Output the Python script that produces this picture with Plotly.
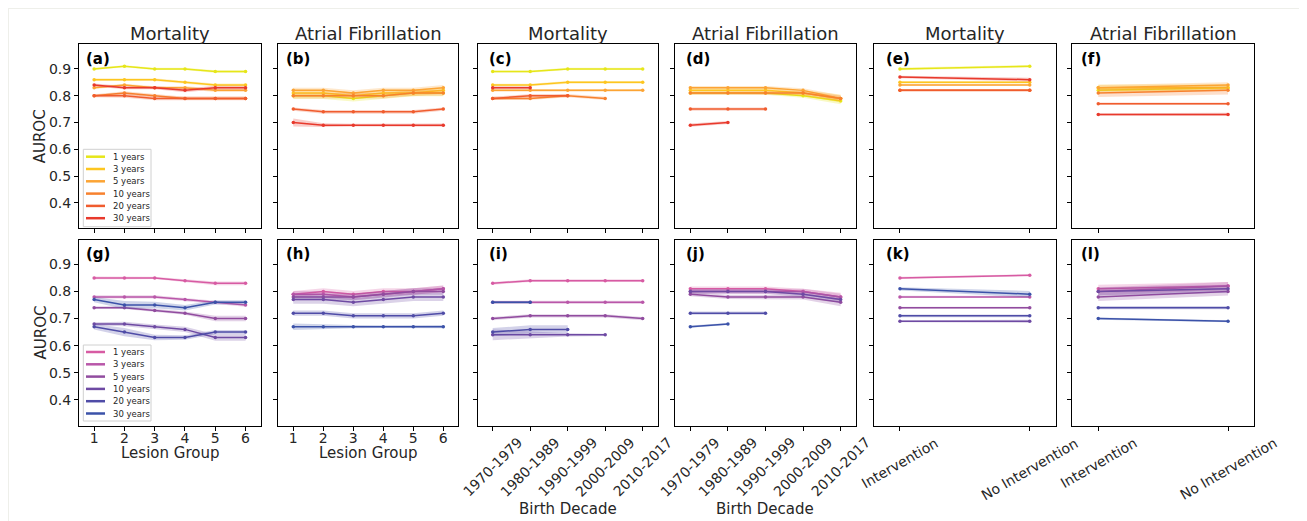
import plotly.graph_objects as go

W, H = 1307, 521

SERIES = ["1 years", "3 years", "5 years", "10 years", "20 years", "30 years"]
WARM = ["#e6e619", "#fdc620", "#fca434", "#f7812e", "#f05c2e", "#e8392c"]
COOL = ["#d75ba3", "#b957a9", "#914c9f", "#6e4aa3", "#4f4ca7", "#3b52a9"]

LESION = [1, 2, 3, 4, 5, 6]
DECADES = ["1970-1979", "1980-1989", "1990-1999", "2000-2009", "2010-2017"]
INTERV = ["Intervention", "No Intervention"]

# ---- top row: (a) Mortality / lesion, (b) AF / lesion, (c) Mortality / decade,
# (d) AF / decade, (e) Mortality / intervention, (f) AF / intervention
pa_y = [[0.90, 0.91, 0.90, 0.90, 0.89, 0.89],
        [0.86, 0.86, 0.86, 0.85, 0.84, 0.84],
        [0.83, 0.84, 0.83, 0.83, 0.82, 0.82],
        [0.80, 0.81, 0.80, 0.79, 0.79, 0.79],
        [0.80, 0.80, 0.79, 0.79, 0.79, 0.79],
        [0.84, 0.83, 0.83, 0.82, 0.83, 0.83]]
pa_e = [[0.004, 0.004, 0.004, 0.004, 0.005, 0.005],
        [0.005, 0.005, 0.005, 0.005, 0.006, 0.006],
        [0.005, 0.005, 0.005, 0.006, 0.006, 0.006],
        [0.005, 0.007, 0.006, 0.006, 0.006, 0.006],
        [0.006, 0.008, 0.007, 0.007, 0.007, 0.007],
        [0.006, 0.006, 0.006, 0.007, 0.007, 0.007]]

pb_y = [[0.80, 0.80, 0.79, 0.80, 0.81, 0.81],
        [0.81, 0.81, 0.80, 0.81, 0.81, 0.82],
        [0.82, 0.82, 0.81, 0.82, 0.82, 0.83],
        [0.80, 0.80, 0.80, 0.80, 0.81, 0.81],
        [0.75, 0.74, 0.74, 0.74, 0.74, 0.75],
        [0.70, 0.69, 0.69, 0.69, 0.69, 0.69]]
pb_e = [[0.012, 0.012, 0.012, 0.012, 0.012, 0.012],
        [0.012, 0.012, 0.012, 0.012, 0.012, 0.012],
        [0.010, 0.010, 0.010, 0.010, 0.010, 0.010],
        [0.010, 0.010, 0.010, 0.010, 0.010, 0.010],
        [0.006, 0.007, 0.007, 0.007, 0.007, 0.006],
        [0.015, 0.007, 0.005, 0.005, 0.005, 0.006]]

pc_y = [[0.89, 0.89, 0.90, 0.90, 0.90],
        [0.84, 0.84, 0.85, 0.85, 0.85],
        [0.82, 0.82, 0.82, 0.82, 0.82],
        [0.79, 0.79, 0.80, 0.79, None],
        [0.79, 0.80, 0.80, None, None],
        [0.83, 0.83, None, None, None]]
pc_e = [[0.004, 0.004, 0.004, 0.004, 0.004],
        [0.005, 0.005, 0.005, 0.005, 0.005],
        [0.005, 0.005, 0.005, 0.005, 0.005],
        [0.006, 0.006, 0.006, 0.006, None],
        [0.006, 0.006, 0.006, None, None],
        [0.005, 0.005, None, None, None]]

pd_y = [[0.81, 0.81, 0.81, 0.80, 0.78],
        [0.82, 0.82, 0.82, 0.81, 0.79],
        [0.83, 0.83, 0.83, 0.82, 0.79],
        [0.81, 0.81, 0.81, 0.81, 0.79],
        [0.75, 0.75, 0.75, None, None],
        [0.69, 0.70, None, None, None]]
pd_e = [[0.006, 0.006, 0.006, 0.008, 0.012],
        [0.008, 0.008, 0.008, 0.010, 0.015],
        [0.006, 0.006, 0.006, 0.008, 0.012],
        [0.006, 0.006, 0.006, 0.008, 0.010],
        [0.006, 0.006, 0.006, None, None],
        [0.006, 0.006, None, None, None]]

pe_y = [[0.90, 0.91], [0.85, 0.85], [0.84, 0.84],
        [0.82, 0.82], [0.82, 0.82], [0.87, 0.86]]
pe_e = [[0.005, 0.005], [0.005, 0.005], [0.004, 0.004],
        [0.004, 0.004], [0.004, 0.004], [0.005, 0.007]]

pf_y = [[0.82, 0.83], [0.83, 0.83], [0.83, 0.84],
        [0.81, 0.82], [0.77, 0.77], [0.73, 0.73]]
pf_e = [[0.010, 0.010], [0.012, 0.012], [0.010, 0.010],
        [0.015, 0.015], [0.005, 0.005], [0.005, 0.006]]

# ---- bottom row: (g)..(l)
pg_y = [[0.85, 0.85, 0.85, 0.84, 0.83, 0.83],
        [0.78, 0.78, 0.78, 0.77, 0.76, 0.75],
        [0.74, 0.74, 0.73, 0.72, 0.70, 0.70],
        [0.68, 0.68, 0.67, 0.66, 0.63, 0.63],
        [0.67, 0.65, 0.63, 0.63, 0.65, 0.65],
        [0.77, 0.75, 0.75, 0.74, 0.76, 0.76]]
pg_e = [[0.005, 0.005, 0.004, 0.005, 0.007, 0.007],
        [0.006, 0.006, 0.006, 0.006, 0.006, 0.006],
        [0.005, 0.005, 0.006, 0.006, 0.010, 0.010],
        [0.006, 0.008, 0.008, 0.010, 0.012, 0.012],
        [0.010, 0.015, 0.010, 0.008, 0.008, 0.008],
        [0.010, 0.015, 0.012, 0.010, 0.008, 0.008]]

ph_y = [[0.79, 0.80, 0.79, 0.80, 0.80, 0.81],
        [0.79, 0.79, 0.78, 0.79, 0.80, 0.81],
        [0.78, 0.78, 0.78, 0.79, 0.80, 0.80],
        [0.77, 0.77, 0.76, 0.77, 0.78, 0.78],
        [0.72, 0.72, 0.71, 0.71, 0.71, 0.72],
        [0.67, 0.67, 0.67, 0.67, 0.67, 0.67]]
ph_e = [[0.012, 0.012, 0.012, 0.012, 0.012, 0.012],
        [0.012, 0.012, 0.012, 0.012, 0.012, 0.012],
        [0.012, 0.012, 0.012, 0.012, 0.012, 0.012],
        [0.015, 0.015, 0.015, 0.015, 0.015, 0.015],
        [0.010, 0.010, 0.010, 0.010, 0.010, 0.010],
        [0.012, 0.008, 0.006, 0.005, 0.005, 0.006]]

pi_y = [[0.83, 0.84, 0.84, 0.84, 0.84],
        [0.76, 0.76, 0.76, 0.76, 0.76],
        [0.70, 0.71, 0.71, 0.71, 0.70],
        [0.64, 0.64, 0.64, 0.64, None],
        [0.65, 0.66, 0.66, None, None],
        [0.76, 0.76, None, None, None]]
pi_e = [[0.005, 0.005, 0.005, 0.005, 0.005],
        [0.006, 0.006, 0.006, 0.006, 0.006],
        [0.006, 0.006, 0.006, 0.006, 0.006],
        [0.020, 0.012, 0.006, 0.004, None],
        [0.015, 0.015, 0.015, None, None],
        [0.005, 0.005, None, None, None]]

pj_y = [[0.81, 0.81, 0.81, 0.80, 0.78],
        [0.80, 0.80, 0.80, 0.80, 0.78],
        [0.79, 0.78, 0.78, 0.78, 0.76],
        [0.80, 0.80, 0.80, 0.79, 0.77],
        [0.72, 0.72, 0.72, None, None],
        [0.67, 0.68, None, None, None]]
pj_e = [[0.008, 0.008, 0.008, 0.010, 0.015],
        [0.008, 0.008, 0.008, 0.010, 0.012],
        [0.008, 0.008, 0.008, 0.010, 0.015],
        [0.008, 0.008, 0.008, 0.010, 0.012],
        [0.006, 0.006, 0.006, None, None],
        [0.004, 0.004, None, None, None]]

pk_y = [[0.85, 0.86], [0.78, 0.78], [0.74, 0.74],
        [0.69, 0.69], [0.71, 0.71], [0.81, 0.79]]
pk_e = [[0.004, 0.004], [0.004, 0.004], [0.004, 0.004],
        [0.004, 0.006], [0.005, 0.005], [0.006, 0.012]]

pl_y = [[0.81, 0.82], [0.80, 0.82], [0.78, 0.80],
        [0.80, 0.81], [0.74, 0.74], [0.70, 0.69]]
pl_e = [[0.015, 0.015], [0.015, 0.015], [0.015, 0.015],
        [0.015, 0.015], [0.006, 0.006], [0.004, 0.004]]

PANEL_LABELS = ["(a)", "(b)", "(c)", "(d)", "(e)", "(f)",
                "(g)", "(h)", "(i)", "(j)", "(k)", "(l)"]
COL_TITLES = ["Mortality", "Atrial Fibrillation"] * 3

panels = [
    (LESION, pa_y, pa_e), (LESION, pb_y, pb_e), (DECADES, pc_y, pc_e),
    (DECADES, pd_y, pd_e), (INTERV, pe_y, pe_e), (INTERV, pf_y, pf_e),
    (LESION, pg_y, pg_e), (LESION, ph_y, ph_e), (DECADES, pi_y, pi_e),
    (DECADES, pj_y, pj_e), (INTERV, pk_y, pk_e), (INTERV, pl_y, pl_e),
]

# layout geometry (screen pixels); the page body adds an 8px offset
OFF = 8
COL_L = [79, 278.3, 477.7, 675.3, 874, 1072.3]
COL_R = [260.7, 458.3, 657.7, 855.7, 1055.7, 1254]
ROW_T = [44.3, 239.5]
ROW_B = [228.3, 425.5]
LABEL_DX = [4.5, 6, 9, 9, 10, 7]
XRANGES = [[0.5, 6.5], [0.5, 6.5], [-0.4, 4.4], [-0.4, 4.4], [-0.2, 1.2], [-0.2, 1.2]]
YRANGE = [0.305, 0.992]

FONT = "DejaVu Sans"
TXT = "#262626"


def px(x):
    return (x - OFF) / W


def py(y):
    return 1 - (y - OFF) / H


def rgba(hexc, a):
    h = hexc.lstrip("#")
    r, g, b = int(h[0:2], 16), int(h[2:4], 16), int(h[4:6], 16)
    return f"rgba({r},{g},{b},{a})"


fig = go.Figure()
layout = dict(
    width=W, height=H, autosize=False,
    margin=dict(l=0, r=0, t=0, b=0, pad=0, autoexpand=False),
    paper_bgcolor="#eeefea",
    plot_bgcolor="white",
    showlegend=False,
    font=dict(family=FONT, color=TXT, size=14),
)
annotations = []
shapes = [dict(type="rect", xref="paper", yref="paper", x0=px(9), x1=px(1299),
               y0=0, y1=py(9), fillcolor="white", line=dict(width=0), layer="below")]

for k, (xs, ys, es) in enumerate(panels):
    idx = k + 1
    r, c = divmod(k, 6)
    xa = "x" if idx == 1 else f"x{idx}"
    ya = "y" if idx == 1 else f"y{idx}"
    colors = WARM if r == 0 else COOL
    for s in range(6):
        pts = [(xx, yy, ee) for xx, yy, ee in zip(xs, ys[s], es[s]) if yy is not None]
        px_ = [p[0] for p in pts]
        up = [p[1] + p[2] for p in pts]
        lo = [p[1] - p[2] for p in pts]
        fig.add_trace(go.Scatter(
            x=px_ + px_[::-1], y=up + lo[::-1], fill="toself",
            fillcolor=rgba(colors[s], 0.25), line=dict(width=0),
            mode="lines", hoverinfo="skip", xaxis=xa, yaxis=ya))
        fig.add_trace(go.Scatter(
            x=px_, y=[p[1] for p in pts], mode="lines+markers",
            line=dict(color=colors[s], width=1.5),
            marker=dict(size=3.5, color=colors[s]),
            name=SERIES[s], xaxis=xa, yaxis=ya))

    xkey = "xaxis" if idx == 1 else f"xaxis{idx}"
    ykey = "yaxis" if idx == 1 else f"yaxis{idx}"
    is_cat = c >= 2
    xaxis = dict(
        domain=[px(COL_L[c]), px(COL_R[c])], anchor=ya, range=XRANGES[c],
        showline=True, mirror=True, linecolor="black", linewidth=1,
        showgrid=False, zeroline=False, ticks="outside", ticklen=4,
        tickcolor="black", tickfont=dict(size=14, color=TXT),
        showticklabels=(r == 1 and not is_cat), ticklabelstandoff=-4,
        fixedrange=True, automargin=False,
    )
    if is_cat:
        xaxis.update(type="category", categoryorder="array", categoryarray=xs)
        if r == 1:
            # matplotlib-style centred, rotated tick labels
            for lab in xs:
                annotations.append(dict(
                    text=lab, xref=xa, yref="paper", x=lab, y=py(432),
                    xanchor="center", yanchor="top", showarrow=False,
                    textangle=-45 if c < 4 else -30,
                    font=dict(size=14, color=TXT, family=FONT)))
    else:
        xaxis.update(tickmode="array", tickvals=LESION, ticktext=[str(v) for v in LESION])
    yaxis = dict(
        domain=[py(ROW_B[r]), py(ROW_T[r])], anchor=xa, range=YRANGE,
        showline=True, mirror=True, linecolor="black", linewidth=1,
        showgrid=False, zeroline=False, ticks="outside", ticklen=4,
        tickcolor="black", tickvals=[0.4, 0.5, 0.6, 0.7, 0.8, 0.9],
        ticktext=["0.4", "0.5", "0.6", "0.7", "0.8", "0.9"],
        tickfont=dict(size=14, color=TXT), showticklabels=(c == 0),
        fixedrange=True, automargin=False,
    )
    layout[xkey] = xaxis
    layout[ykey] = yaxis

    annotations.append(dict(
        text=f"<b>{PANEL_LABELS[k]}</b>", xref="paper", yref="paper",
        x=px(COL_L[c] + LABEL_DX[c]), y=py(ROW_T[r] + 15),
        xanchor="left", yanchor="middle", showarrow=False,
        font=dict(size=15, color="black", family=FONT)))

# column titles
for c in range(6):
    annotations.append(dict(
        text=COL_TITLES[c], xref="paper", yref="paper",
        x=px((COL_L[c] + COL_R[c]) / 2), y=py(33), xanchor="center", yanchor="middle",
        showarrow=False, font=dict(size=18, color=TXT, family=FONT)))

# axis titles
for r in range(2):
    annotations.append(dict(
        text="AUROC", xref="paper", yref="paper", x=px(40),
        y=py((ROW_T[r] + ROW_B[r]) / 2), xanchor="center", yanchor="middle",
        textangle=-90, showarrow=False, font=dict(size=15, color=TXT, family=FONT)))
for c in (0, 1):
    annotations.append(dict(
        text="Lesion Group", xref="paper", yref="paper",
        x=px((COL_L[c] + COL_R[c]) / 2), y=py(453), xanchor="center", yanchor="middle",
        showarrow=False, font=dict(size=15, color=TXT, family=FONT)))
for c in (2, 3):
    annotations.append(dict(
        text="Birth Decade", xref="paper", yref="paper",
        x=px((COL_L[c] + COL_R[c]) / 2), y=py(509), xanchor="center", yanchor="middle",
        showarrow=False, font=dict(size=15, color=TXT, family=FONT)))

# in-panel legends (panels a and g)
LEG_BOX = [(83.3, 149.3, 151, 226.7), (83.3, 345, 151, 421)]
LEG_Y0 = [156.7, 352]
LEG_DY = 12.3
for r in range(2):
    x0, y0, x1, y1 = LEG_BOX[r]
    shapes.append(dict(type="rect", xref="paper", yref="paper",
                       x0=px(x0), x1=px(x1), y0=py(y1), y1=py(y0),
                       fillcolor="rgba(255,255,255,0.8)",
                       line=dict(color="#d0d0d0", width=1), layer="above"))
    colors = WARM if r == 0 else COOL
    for s in range(6):
        yy = LEG_Y0[r] + s * LEG_DY
        shapes.append(dict(type="line", xref="paper", yref="paper",
                           x0=px(86), x1=px(105), y0=py(yy), y1=py(yy),
                           line=dict(color=colors[s], width=2.5), layer="above"))
        annotations.append(dict(
            text=SERIES[s], xref="paper", yref="paper", x=px(110.5), y=py(yy),
            xanchor="left", yanchor="middle", showarrow=False,
            font=dict(size=8.5, color=TXT, family=FONT)))

layout["annotations"] = annotations
layout["shapes"] = shapes
fig.update_layout(**layout)
fig.write_html("out.html")
